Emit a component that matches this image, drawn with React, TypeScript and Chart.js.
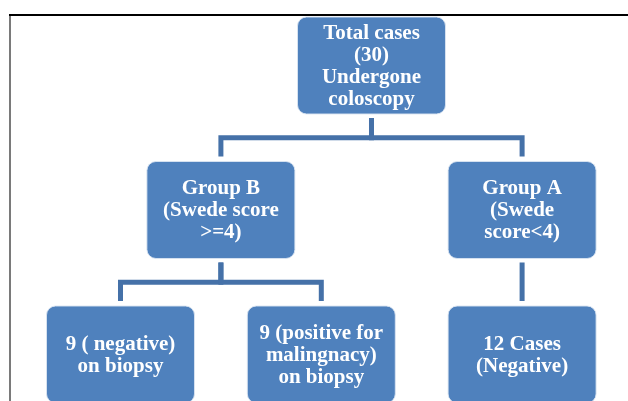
import React, { useEffect, useRef } from "react";
import { Chart, registerables } from "chart.js";
Chart.register(...registerables);

// Flowchart content
const nodeLabels: string[][] = [
  ["Total cases", "(30)", "Undergone", "coloscopy"],
  ["Group B", "(Swede score", ">=4)"],
  ["Group A", "(Swede", "score<4)"],
  ["9 ( negative)", "on biopsy"],
  ["9 (positive for", "malingnacy)", "on biopsy"],
  ["12 Cases", "(Negative)"],
];
// tree column (x) and level (y) of every node
const nodeColumns = [2.5, 1, 4, 0, 2, 4];
const nodeLevels = [0, 1, 1, 2, 2, 2];
// edges parent -> child
const edgeParents = [0, 0, 1, 1, 2];
const edgeChildren = [1, 2, 3, 4, 5];

const BOX_HALF_W = 0.737; // in column units
const BOX_HALF_H = 0.3356; // in level units
const BOX_FILL = "#4F81BD";
const LINE_COLOR = "#4571A8";

const flowPlugin = {
  id: "flow",
  beforeDraw(chart: any) {
    const ctx = chart.ctx;
    ctx.save();
    ctx.fillStyle = "#ffffff";
    ctx.fillRect(0, 0, chart.width, chart.height);
    // frame
    ctx.strokeStyle = "#7a7a7a";
    ctx.lineWidth = 2;
    ctx.beginPath();
    ctx.moveTo(10, 14);
    ctx.lineTo(10, chart.height);
    ctx.stroke();
    ctx.strokeStyle = "#000000";
    ctx.beginPath();
    ctx.moveTo(9, 15);
    ctx.lineTo(chart.width, 15);
    ctx.stroke();
    ctx.restore();
  },
  afterDatasetsDraw(chart: any) {
    const ctx = chart.ctx;
    const xs = chart.scales.x;
    const ys = chart.scales.y;
    const px = (u: number) => xs.getPixelForValue(u);
    const py = (u: number) => ys.getPixelForValue(u);
    const hw = Math.abs(px(BOX_HALF_W) - px(0));
    const hh = Math.abs(py(BOX_HALF_H) - py(0));
    ctx.save();
    // connectors
    ctx.strokeStyle = LINE_COLOR;
    ctx.lineWidth = 5;
    ctx.lineJoin = "miter";
    ctx.lineCap = "butt";
    edgeParents.forEach((p, i) => {
      const c = edgeChildren[i];
      const x1 = px(nodeColumns[p]);
      const x2 = px(nodeColumns[c]);
      const pb = py(nodeLevels[p]) + hh;
      const ct = py(nodeLevels[c]) - hh;
      const mid = (pb + ct) / 2;
      ctx.beginPath();
      ctx.moveTo(x1, pb + 4);
      ctx.lineTo(x1, mid);
      ctx.lineTo(x2, mid);
      ctx.lineTo(x2, ct - 5);
      ctx.stroke();
    });
    // boxes
    nodeLabels.forEach((lines, i) => {
      const cx = px(nodeColumns[i]);
      const cy = py(nodeLevels[i]);
      const x = cx - hw;
      const y = cy - hh;
      ctx.beginPath();
      ctx.roundRect(x, y, hw * 2, hh * 2, 9);
      ctx.fillStyle = BOX_FILL;
      ctx.fill();
      ctx.strokeStyle = "rgba(220,230,242,0.9)";
      ctx.lineWidth = 1;
      ctx.stroke();
      ctx.fillStyle = "#ffffff";
      ctx.font = 'bold 21px "Liberation Serif", "Times New Roman", serif';
      ctx.textAlign = "center";
      ctx.textBaseline = "middle";
      const lh = 22;
      const start = cy - ((lines.length - 1) * lh) / 2;
      lines.forEach((t, k) => ctx.fillText(t, cx, start + k * lh + 1));
    });
    ctx.restore();
  },
};

export default function App() {
  const ref = useRef<HTMLCanvasElement | null>(null);
  useEffect(() => {
    document.body.style.margin = "0";
    if (!ref.current) return;
    const chart = new Chart(ref.current, {
      type: "scatter",
      data: {
        datasets: [
          {
            data: nodeColumns.map((c, i) => ({ x: c, y: nodeLevels[i] })),
            pointRadius: 0,
          },
        ],
      },
      options: {
        animation: false,
        responsive: false,
        layout: { padding: 0 },
        plugins: { legend: { display: false }, tooltip: { enabled: false } },
        scales: {
          x: { type: "linear", min: -1.2002, max: 5.0548, display: false },
          y: { type: "linear", min: -0.4533, max: 2.3218, reverse: true, display: false },
        },
      },
      plugins: [flowPlugin],
    });
    return () => chart.destroy();
  }, []);
  return (
    <div style={{ width: 628, height: 401 }}>
      <canvas ref={ref} width={628} height={401} style={{ display: "block" }} />
    </div>
  );
}
